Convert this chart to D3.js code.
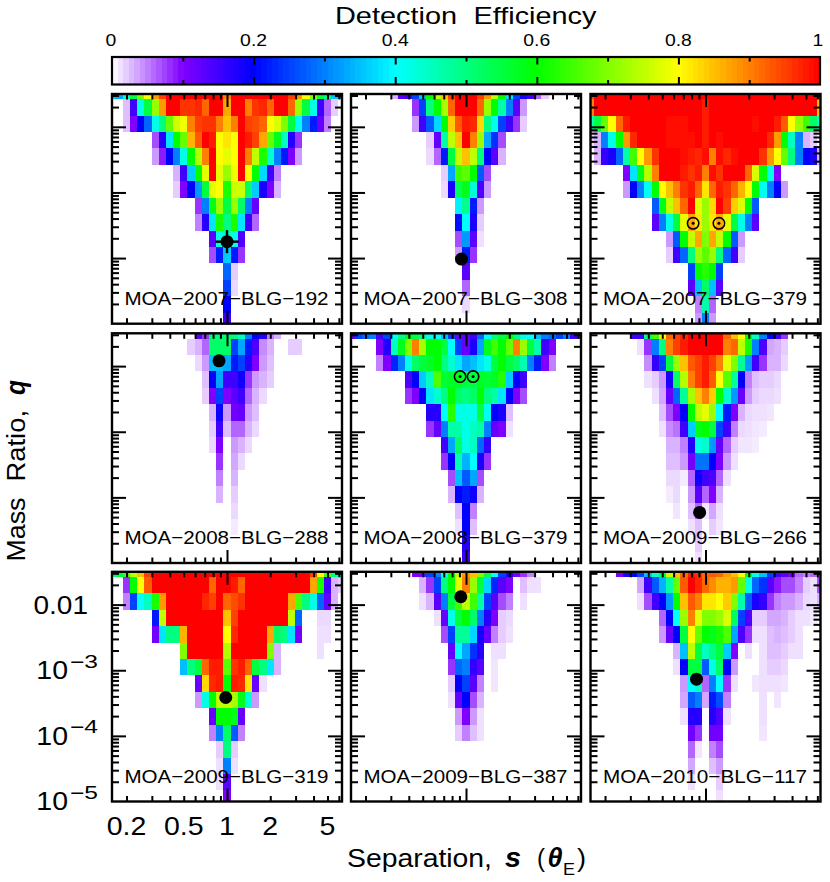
<!DOCTYPE html>
<html><head><meta charset="utf-8">
<script src="https://cdn.jsdelivr.net/npm/d3@7/dist/d3.min.js"></script>
<style>html,body{margin:0;padding:0;background:#fff}svg{display:block}text{font-family:"Liberation Sans",sans-serif;fill:#000}</style>
</head><body><svg id="c" width="830" height="882"></svg>
<script>
// Every row is [first column index, values...]; rows run from the top of the panel down.
const e192 = [
[-16,.35,.33,.45,.55,.7,.8,.88,.95,1,1,1,1,1,1,1,1,.9,1,1,1,1,1,1,1,1,.95,.88,.8,.7,.55,.5,.35,.3],
[-14,.025,.15,.42,.55,.72,.88,1,1,.96,.96,.97,.92,1,1,.87,1,1,.9,.96,.97,.92,1,1,.92,.72,.55,.42,.15,.06,.02],
[-14,.025,.1,.2,.28,.42,.5,.68,.76,.79,.9,.95,.96,.96,.9,.85,.9,1,.95,.94,.92,.8,.77,.7,.55,.41,.3,.22,.12,.05],
[-10,.07,.17,.38,.6,.68,.86,.93,1,.98,.8,.82,.8,1,.98,.95,.87,.68,.58,.45,.17,.08],
[-10,.04,.09,.2,.3,.42,.6,.74,.9,1,.8,.78,.8,1,.9,.75,.62,.44,.3,.22,.1,.04],
[-7,.03,.15,.36,.6,.78,1,.78,.72,.79,1,.8,.6,.37,.15,.05],
[-7,.02,.1,.2,.32,.55,.78,.8,.62,.76,.76,.52,.36,.18,.1,.03],
[-4,.08,.3,.58,.72,.55,.72,.52,.3,.12],
[-4,.05,.17,.38,.62,.5,.62,.38,.15,.06],
[-2,.13,.42,.45,.42,.14],
[-2,.07,.22,.36,.22,.08],
[0,.28,.02],
[0,.25,.015],
[0,.2],
[0,.15]];
const e308 = [
[-10,.03,.13,.15,.25,.35,.6,.75,.85,.95,1,1,1,.95,.88,.75,.6,.38,.25,.18,.15,.06,.02],
[-7,.08,.25,.5,.6,.73,.92,1,1,1,.92,.72,.6,.47,.3,.13,.04],
[-7,.04,.15,.27,.37,.6,.84,.93,.98,.97,.83,.5,.42,.25,.15,.08,.02],
[-5,.02,.12,.47,.75,.85,1,.9,.72,.33,.24,.07],
[-5,.015,.06,.22,.55,.75,.85,.75,.5,.2,.13,.03],
[-3,.02,.33,.65,.67,.6,.27,.07],
[-3,.015,.18,.53,.58,.43,.14,.04],
[-1,.39,.49,.22,.04],
[-1,.21,.4,.18,.02],
[-1,.07,.32,.13,.012],
[-1,.04,.22,.08],
[0,.13],
[0,.06],
[0,.015]];
const e379 = [
[-16,.95,1,1,1,1,1,1,1,1,1,1,1,1,1,1,1,1,1,1,1,1,1,1,1,1,1,1,1,1,1,1,1,.95],
[-16,.9,1,1,1,1,1,1,1,1,1,1,1,1,1,1,1,.98,1,1,1,1,1,1,1,1,1,1,1,1,1,1,1,.85],
[-16,.45,.55,.68,.8,.92,.98,1,1,1,1,1,.99,.99,.99,1,1,.98,1,1,1,1,1,1,.99,1,1,.98,.93,.8,.72,.65,.52,.45],
[-16,.015,.03,.3,.42,.6,.88,.97,1,1,1,1,.99,.99,.99,.99,1,.98,1,.99,1,1,1,1,1,1,.97,.88,.6,.45,.3,.03,.02],
[-15,.03,.16,.18,.28,.47,.65,.8,.88,.96,1,1,1,.99,.98,.97,.99,.9,.99,.97,.99,1,1,1,.96,.88,.8,.68,.5,.3,.2,.18,.03],
[-11,.1,.38,.58,.74,.9,1,1,1,.98,.96,.98,.9,.99,.96,1,1,1,.92,.77,.6,.42,.1],
[-11,.04,.2,.3,.41,.6,.8,.85,.9,.96,.98,.92,.82,.92,.98,.96,.92,.86,.8,.6,.41,.3,.2,.04],
[-7,.27,.58,.75,.85,.92,1,.78,.72,.83,1,.95,.84,.77,.6,.27],
[-7,.13,.3,.42,.55,.78,.87,.82,.72,.82,.87,.78,.55,.42,.3,.13],
[-5,.04,.27,.6,.75,.87,.7,.87,.75,.6,.27,.04],
[-5,.02,.15,.28,.5,.72,.67,.72,.5,.28,.15,.02],
[-2,.25,.6,.63,.6,.25],
[-2,.13,.35,.52,.35,.13],
[-1,.05,.47,.06],
[-1,.04,.3,.04]];
const e288 = [
[-4,.13,.08,.52,.5,.52,.5,.45,.3,.2,.17,.05,.03],
[-5,.02,.03,.06,.52,.52,.52,.25,.33,.22,.14,.045,.03,0,0,.02,.02],
[-4,.015,.04,.35,.35,.33,.22,.25,.17,.1,.04,.025],
[-3,.025,.2,.33,.15,.15,.19,.08,.04,.03,.02],
[-3,.02,.1,.25,.1,.13,.15,.06,.03,.015],
[-2,.03,.19,.04,.11,.12,.04,.025],
[-2,.02,.15,.025,.06,.06,.03,.015],
[-2,.015,.1,0,.04,.03,.015],
[-1,.08,0,.035,.015],
[-1,.05,0,.03],
[-1,.03,0,.02],
[1,.015],
[1,.008]];
const e2379 = [
[-16,.12,.25,.28,.3,.15,.25,.4,.5,.6,.55,.5,.42,.4,.35,.25,.12,.13,.15,.28,.4,.5,.55,.6,.5,.42,.4,.35,.3,.28,.25,.3,.15,.12],
[-12,.1,.17,.45,.58,.7,.9,.73,.6,.6,.55,.4,.25,.12,.18,.33,.58,.65,.6,.68,.9,.72,.55,.47,.15,.1],
[-12,.05,.1,.23,.3,.42,.52,.55,.57,.6,.5,.44,.38,.33,.35,.38,.42,.55,.6,.55,.52,.46,.3,.22,.1,.05],
[-8,.14,.2,.36,.45,.66,.56,.57,.58,.55,.55,.57,.56,.57,.63,.36,.2,.15],
[-8,.08,.1,.2,.38,.44,.5,.6,.52,.5,.52,.6,.5,.47,.38,.2,.1,.07],
[-5,.17,.17,.4,.63,.42,.42,.42,.55,.41,.2,.18,.025],
[-5,.08,.12,.3,.47,.47,.42,.45,.47,.3,.12,.1,.012],
[-3,.15,.33,.52,.42,.45,.28,.16],
[-3,.08,.2,.46,.34,.4,.18,.08],
[-2,.07,.35,.27,.33,.07],
[-2,.03,.2,.22,.19,.03],
[-1,.025,.2,.05],
[-1,.012,.2,.025],
[0,.17],
[0,.15]];
const e266 = [
[-10,.15,.15,.5,.65,.8,.92,.95,.97,1,1,1,1,1,.92,.85,.8,.6,.45,.3,.2,.15,.08],
[-9,.012,.08,.3,.5,.9,.95,.98,1,1,1,1,1,.9,.92,.75,.62,.3,.14,.035,.03,.02],
[-8,.045,.16,.25,.55,.72,.85,.93,.95,.98,.95,.9,.78,.7,.48,.32,.15,.08,.03,.03,.015],
[-8,.012,.02,.04,.18,.52,.74,.9,.95,.98,.93,.8,.67,.48,.2,.05,.025,.02,.02,.015],
[-7,.012,.035,.12,.28,.48,.73,.85,.9,.84,.6,.44,.32,.12,.04,.02,.015,.015,.012],
[-6,.025,.07,.1,.2,.6,.75,.78,.72,.4,.22,.1,.03,.015,.012,.012,.01],
[-6,.012,.045,.055,.15,.36,.58,.6,.55,.25,.15,.05,.015,.012,.01,.008],
[-5,.03,.03,.05,.17,.42,.44,.32,.12,.06,.02,.01,.01,.008],
[-5,.025,.025,.04,.11,.29,.29,.2,.1,.04,.012],
[-5,.015,.015,.008,.06,.19,.15,.14,.06,.012],
[-5,.008,.015,0,.04,.13,.06,.1,.03],
[-4,.01,0,.025,.06,.01,.035,.012],
[-2,.012,.025,0,.02,.01],
[-1,.02],
[-1,.012]];
const e319 = [
[-16,.5,.55,.65,.75,.85,.95,1,1,1,1,1,1,1,1,1,1,1,1,1,1,1,1,1,1,1,1,1,1,.95,.8,.65,.5,.45],
[-14,.08,.6,.8,.93,1,1,1,1,1,1,1,1,.92,1,1,.98,.92,1,1,1,1,1,1,1,1,1,.87,.62,.15,.03,.02],
[-14,.05,.25,.4,.45,.62,.88,1,1,1,1,1,.97,.95,1,.92,.94,.96,1,1,1,1,1,1,.87,.66,.5,.42,.28,.12,.03],
[-10,.22,.75,1,1,1,1,1,1,1,1,.85,.95,1,1,1,1,1,1,1,.75,.28,0,0,.015,.015],
[-10,.11,.38,.5,.5,.86,1,1,1,1,1,.8,.97,1,1,1,1,.87,.52,.5,.38,.11,0,0,.012,.012],
[-6,.7,1,1,1,1,1,.74,1,1,1,1,1,.7,.03,0,0,0,0,0,.012],
[-6,.35,.5,.55,.92,.98,.98,.67,.96,.98,.92,.55,.5,.38,.03],
[-4,.12,.83,.97,.98,.6,.98,.97,.82,.12,.012],
[-4,.04,.42,.6,.75,.75,.73,.58,.43,.04],
[-2,.12,.6,.6,.58,.12],
[-2,.05,.3,.52,.27,.05],
[-1,.02,.5,.02],
[-1,.012,.3,.012],
[-1,.012,.13],
[0,.1]];
const e387 = [
[-7,.1,.1,.25,.3,.42,.6,.75,.88,.85,.7,.55,.4,.25,.18,.1,.08,.05],
[-6,.03,.08,.25,.5,.6,.78,.9,.72,.55,.37,.23,.13,.1,0,.025,.012,.012],
[-6,.012,.03,.13,.3,.55,.65,.75,.65,.47,.25,.13,.07,.05,0,.012],
[-4,.012,.12,.42,.55,.6,.52,.3,.17,.1,.02,.015],
[-3,.07,.25,.48,.48,.37,.18,.12,.05,.02,.012],
[-2,.12,.4,.33,.24,.17,0,.012,.012],
[-2,.08,.28,.3,.16,.13,0,.01],
[-2,.02,.2,.25,.13,.05,0,.01],
[-2,.012,.12,.2,.07,.03],
[-1,.04,.1,.04,.012],
[-1,.02,.05,.025,.012]];
const e117 = [
[-12,.1,.18,.2,.25,.35,.45,.55,.75,.85,.92,.98,.96,.92,.93,.92,.88,.85,.8,.6,.42,.35,.25,.15,.13,.1,.06,.05,.06,.05],
[-9,.035,.15,.27,.34,.47,.68,.93,1,.97,.92,.89,.86,.86,.88,.68,.42,.28,.24,.13,.09,.07,.07,.05,.02,.012,.07],
[-9,.012,.07,.15,.2,.32,.6,.85,.93,.9,.82,.82,.8,.84,.7,.47,.27,.18,.16,.08,.05,.04,.04,.03,.015,.012,.03],
[-6,.06,.2,.4,.72,.9,.78,.7,.7,.72,.77,.53,.25,.14,.02,.02,.035,.035,.03,.02,.012,.012,.008],
[-6,.04,.12,.2,.55,.8,.68,.6,.58,.62,.66,.33,.14,.08,.012,.012,.025,.03,.025,.02,.012],
[-4,.03,.35,.75,.55,.45,.5,.55,.36,.1,0,.012,0,.012,.025,.025,.02,.012,.012],
[-4,.012,.2,.55,.55,.27,.42,.52,.2,.04,0,0,0,.012,.02,.02,.015],
[-3,.04,.4,.45,.06,.3,.4,.08,.012,0,0,.01,.012,.012,.012,.01],
[-3,.035,.27,.3,.035,.22,.26,.05,0,0,0,0,.012,0,.01],
[-3,.012,.17,.17,0,.17,.14,.012,0,0,0,0,.012],
[-2,.11,.08,0,.11,.11,0,0,0,0,0,.01],
[-2,.06,.01,0,.05,.07],
[-2,.035,0,0,.025,.04],
[-2,.012,0,0,0,.02],
[2,.012]];

const eventNames = ["MOA−2007−BLG−192","MOA−2007−BLG−308","MOA−2007−BLG−379","MOA−2008−BLG−288","MOA−2008−BLG−379","MOA−2009−BLG−266","MOA−2009−BLG−319","MOA−2009−BLG−387","MOA−2010−BLG−117"];
const grids = [e192,e308,e379,e288,e2379,e266,e319,e387,e117];
// Planet solutions: [separation, log10 mass ratio]
const solutions = [[[1.0,-3.75]],[[.93,-4.015]],[[.82,-3.47],[1.24,-3.47]],[[.88,-1.92]],[[.91,-2.16],[1.12,-2.16]],[[.91,-4.23]],[[.98,-3.415]],[[.92,-1.88]],[[.866,-3.136]]];
const wide = [true,false,false,false,false,false,false,false,false];   // marker with error cross
const ringed = [false,false,true,false,true,false,false,false,false];  // close/wide ⊙ pair

const colorStops = [0,.1,.2,.3,.4,.5,.6,.7,.8,.9,1];
const colorHex = ["#ffffff","#8000ff","#0000ff","#0080ff","#00ffff","#00ff80","#00ff00","#80ff00","#ffff00","#ff8000","#ff0000"];
const barMajor = [0,.2,.4,.6,.8,1];
const barMinor = [.1,.3,.5,.7,.9];
const sepMinor = [.2,.3,.4,.5,.6,.7,.8,.9,2,3,4,5,6];
const sepMajor = [1];
const sepLabels = [.2,.5,1,2,5];
const qMajor = [1e-2,1e-3,1e-4];
const qMinor = [2,3,4,5,6,7,8,9].flatMap(k=>[k*1e-5,k*1e-4,k*1e-3,k*1e-2]).filter(q=>q<0.0316);
const qLabels = [[1e-2,"0.01"],[1e-3,"10","−3"],[1e-4,"10","−4"],[1e-5,"10","−5"]];

const svg = d3.select("#c");
const color = d3.scaleLinear().domain(colorStops).range(colorHex).interpolate(d3.interpolateRgb).clamp(true);
const SERIF = '"Liberation Serif",serif';

// Stretch glyphs horizontally to the wide proportions of the reference lettering
function widen(sel,f){ sel.each(function(){ const w=this.getComputedTextLength(); d3.select(this).attr("textLength",w*f).attr("lengthAdjust","spacingAndGlyphs"); }); return sel; }
function piece(parent,x,y,str,len,size,serif){
  const t = parent.append("text").attr("x",x).attr("y",y).attr("font-size",size).attr("textLength",len).attr("lengthAdjust","spacingAndGlyphs").text(str);
  if(serif) t.attr("font-family",SERIF).attr("font-style","italic").attr("font-weight","bold");
  return t;
}

// Colour bar
const barX = d3.scaleLinear().domain([0,1]).range([112,820]);
const barTop = 57, barBottom = 84.5;
const barG = svg.append("g");
barG.selectAll("rect").data(d3.range(0,1,1/128)).join("rect")
  .attr("x",d=>barX(d)).attr("y",barTop).attr("width",barX(1/128)-barX(0)+.6).attr("height",barBottom-barTop)
  .attr("fill",d=>color(d+1/256)).attr("shape-rendering","crispEdges");
function cleanAxis(g){g.select(".domain").remove();g.selectAll("line").attr("stroke","#000").attr("stroke-width",2);g.selectAll("text").remove();}
[[barMinor,4.5],[barMajor.slice(1,-1),7.5]].forEach(([vals,len])=>{
  barG.append("g").attr("transform",`translate(0,${barTop})`).call(d3.axisBottom(barX).tickValues(vals).tickSize(len)).call(cleanAxis);
  barG.append("g").attr("transform",`translate(0,${barBottom})`).call(d3.axisTop(barX).tickValues(vals).tickSize(len)).call(cleanAxis);
});
barG.append("rect").attr("x",112).attr("y",barTop).attr("width",708).attr("height",barBottom-barTop).attr("fill","none").attr("stroke","#000").attr("stroke-width",2.2);
barG.selectAll("text.t").data(barMajor).join("text").attr("class","t")
  .attr("x",d=>barX(d)-(d===0?1:d===1?2:0)).attr("y",46).attr("text-anchor","middle").attr("font-size",17).text(d=>d).call(widen,1.14);
piece(svg,335,24,"Detection",122,24);
piece(svg,473.5,24,"Efficiency",123,24);

// Panels
const colX = [112,351,590.5], rowY = [94,333.3,571.8], pw = 230, ph = 229.7;
const defs = svg.append("defs");
grids.forEach((grid,idx)=>{
  const px = colX[idx%3], py = rowY[Math.floor(idx/3)];
  const x = d3.scaleLog().domain([Math.pow(10,-.8),Math.pow(10,.8)]).range([0,pw]);
  const y = d3.scaleLog().domain([1e-5,Math.pow(10,-1.5)]).range([ph,0]);
  const g = svg.append("g").attr("transform",`translate(${px},${py})`);
  defs.append("clipPath").attr("id","p"+idx).append("rect").attr("width",pw).attr("height",ph);
  const cells = [];
  grid.forEach((row,r)=>{
    const lq = -1.455-.25*r;
    row.slice(1).forEach((v,j)=>{ if(v>0) cells.push({i:row[0]+j,lq,v}); });
  });
  g.append("g").attr("clip-path",`url(#p${idx})`).selectAll("rect").data(cells).join("rect")
    .attr("x",d=>x(Math.pow(10,(d.i-.5)*.05)))
    .attr("width",d=>x(Math.pow(10,(d.i+.5)*.05))-x(Math.pow(10,(d.i-.5)*.05)))
    .attr("y",d=>y(Math.pow(10,d.lq+.125)))
    .attr("height",d=>y(Math.pow(10,d.lq-.125))-y(Math.pow(10,d.lq+.125)))
    .attr("fill",d=>color(d.v)).attr("shape-rendering","crispEdges");
  // ticks, pointing inward on all four sides
  [[sepMinor,5.5],[sepMajor,13]].forEach(([v,l])=>{
    g.append("g").attr("transform",`translate(0,0)`).call(d3.axisBottom(x).tickValues(v).tickSize(l)).call(cleanAxis);
    g.append("g").attr("transform",`translate(0,${ph})`).call(d3.axisTop(x).tickValues(v).tickSize(l)).call(cleanAxis);
  });
  [[qMinor,7],[qMajor,14]].forEach(([v,l])=>{
    g.append("g").call(d3.axisRight(y).tickValues(v).tickSize(l)).call(cleanAxis);
    g.append("g").attr("transform",`translate(${pw},0)`).call(d3.axisLeft(y).tickValues(v).tickSize(l)).call(cleanAxis);
  });
  g.append("rect").attr("width",pw).attr("height",ph).attr("fill","none").attr("stroke","#000").attr("stroke-width",2.4);
  // solutions
  solutions[idx].forEach(([s,lq])=>{
    const cx = x(s), cy = y(Math.pow(10,lq));
    if(ringed[idx]){
      g.append("circle").attr("cx",cx).attr("cy",cy).attr("r",5.7).attr("fill","none").attr("stroke","#000").attr("stroke-width",1.6);
      g.append("circle").attr("cx",cx).attr("cy",cy).attr("r",1.5).attr("fill","#000");
    } else {
      g.append("circle").attr("cx",cx).attr("cy",cy).attr("r",6.5).attr("fill","#000");
      if(wide[idx]){
        g.append("line").attr("x1",cx).attr("x2",cx).attr("y1",cy-11.5).attr("y2",cy+11.5).attr("stroke","#000").attr("stroke-width",2.4);
        g.append("line").attr("x1",cx-11.5).attr("x2",cx+11.5).attr("y1",cy).attr("y2",cy).attr("stroke","#000").attr("stroke-width",2.4);
      }
    }
  });
  g.append("text").attr("x",pw/2-.5).attr("y",ph-18.5).attr("text-anchor","middle").attr("font-size",19).attr("textLength",204).attr("lengthAdjust","spacingAndGlyphs").text(eventNames[idx]);

  if(idx===6){
    g.selectAll("text.x").data(sepLabels).join("text").attr("class","x")
      .attr("x",d=>x(d)).attr("y",ph+34).attr("text-anchor","middle").attr("font-size",25).text(d=>d).call(widen,1.14);
    qLabels.forEach(([q,a,b])=>{
      const yy = y(q);
      if(!b){ g.append("text").attr("x",-24).attr("y",yy+9).attr("text-anchor","end").attr("font-size",25).text(a).call(widen,1.12); }
      else {
        g.append("text").attr("x",-44).attr("y",yy+9).attr("text-anchor","end").attr("font-size",25).text(a).call(widen,1.14);
        g.append("text").attr("x",-14).attr("y",yy-2.5).attr("text-anchor","end").attr("font-size",18).attr("textLength",28).attr("lengthAdjust","spacingAndGlyphs").text(b);
      }
    });
  }
});

// Axis titles
const titleY = 867;
piece(svg,347,titleY,"Separation,",145,25);
piece(svg,505,titleY,"s",16,27,true);
piece(svg,537,titleY,"(",8,25);
piece(svg,547.5,titleY,"θ",15,27,true);
piece(svg,563,titleY+8,"E",12,17);
piece(svg,577,titleY,")",9,25);
const yTitle = svg.append("g").attr("transform","translate(25,561.5) rotate(-90)");
piece(yTitle,0,0,"Mass",64,25.5);
piece(yTitle,80,0,"Ratio,",71.5,25.5);
piece(yTitle,166.5,0,"q",15,27,true);
</script></body></html>
